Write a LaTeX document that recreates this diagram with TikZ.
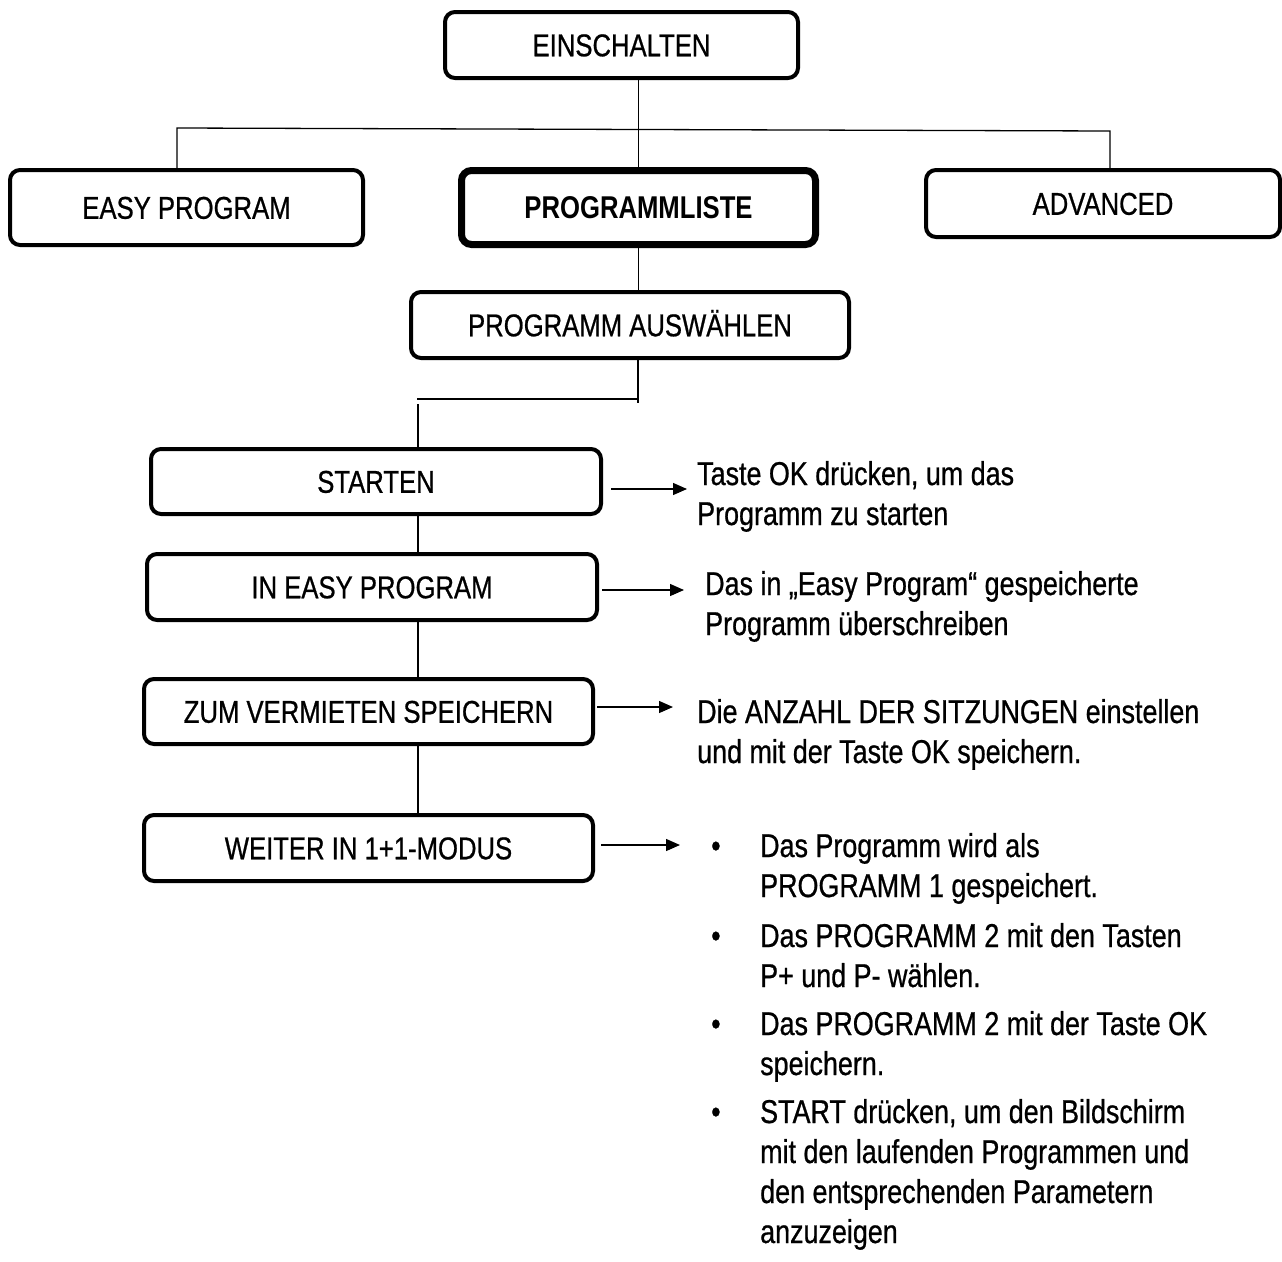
\documentclass[tikz,border=0pt]{standalone}
\usepackage{fontspec}
\setmainfont{Liberation Sans}[FakeStretch=0.815]
\newfontfamily\regfont{Liberation Sans}[FakeStretch=0.815,FakeBold=0.7]
\usetikzlibrary{calc,arrows.meta}
\begin{document}
\begin{tikzpicture}[x=1pt,y=-1pt,
  box/.style={draw,line width=4pt,rounded corners=10pt,inner sep=0pt,align=center,
    text height=22.5pt,text depth=0pt,font=\fontsize{31.5}{37}\regfont},
  conn/.style={line width=1.3pt},
  arr/.style={line width=1.3pt,-{Triangle[length=14pt,width=12pt]}},
  note/.style={anchor=base west,inner sep=0pt,align=left,font=\fontsize{33}{40}\regfont}]
\useasboundingbox (0,0) rectangle (1282,1261);

% boxes
\node[box,minimum width=353pt,minimum height=66pt] (ein) at (621.5,45) {EINSCHALTEN};
\node[box,minimum width=353pt,minimum height=75pt] (easy) at (186.5,207.5) {EASY PROGRAM};
\node[box,line width=7pt,minimum width=354pt,minimum height=74pt,
      font=\fontsize{31.5}{37}\selectfont\rmfamily\bfseries] (plist) at (638.5,207.5) {PROGRAMMLISTE};
\node[box,minimum width=354pt,minimum height=67pt] (adv) at (1103,203.5) {ADVANCED};
\node[box,minimum width=438pt,minimum height=66pt] (ausw) at (630,325) {PROGRAMM AUSWÄHLEN};
\node[box,minimum width=450pt,minimum height=65pt] (st) at (376,481.5) {STARTEN};
\node[box,minimum width=450pt,minimum height=66pt] (ie) at (372,587) {IN EASY PROGRAM};
\node[box,minimum width=449pt,minimum height=65pt] (zum) at (368.5,711.5) {ZUM VERMIETEN SPEICHERN};
\node[box,minimum width=449pt,minimum height=66pt] (wei) at (368.5,848) {WEITER IN 1+1-MODUS};

% connectors top
\coordinate (bl) at (177,128);
\coordinate (br) at (1110,131);
\draw[conn] (ein.south -| plist.north) -- (plist.north);
\draw[conn] (easy.north -| bl) -- (bl) -- (br) -- (adv.north -| br);
\draw[conn] (plist.south) -- (plist.south |- ausw.north);

% branch below ausw
\coordinate (j1) at (638,399);
\coordinate (j2) at (417,399);
\coordinate (j3) at (418,404);
\draw[conn] (ausw.south -| j1) -- ($(j1)+(0,4)$);
\draw[conn] (j1) -- (j2);
\draw[conn] (j3) -- (st.north -| j3);
\draw[conn] (st.south -| j3) -- (ie.north -| j3);
\draw[conn] (ie.south -| j3) -- (zum.north -| j3);
\draw[conn] (zum.south -| j3) -- (wei.north -| j3);

% arrows
\coordinate (t1) at (687,489);
\coordinate (t2) at (684,590);
\coordinate (t3) at (673,707);
\coordinate (t4) at (680,845);
\draw[arr] ($(st.east |- t1)+(8,0)$) -- (t1);
\draw[arr] ($(ie.east |- t2)+(3,0)$) -- (t2);
\draw[arr] ($(zum.east |- t3)+(2,0)$) -- (t3);
\draw[arr] ($(wei.east |- t4)+(6,0)$) -- (t4);

% notes (base = baseline of last line)
\node[note] (n1) at (697,525) {Taste OK drücken, um das\\Programm zu starten};
\node[note] (n2) at (705,635) {Das in „Easy Program“ gespeicherte\\Programm überschreiben};
\node[note] (n3) at (697,763) {Die ANZAHL DER SITZUNGEN einstellen\\und mit der Taste OK speichern.};
\node[note] (n4) at (711,857) {\begin{tabular}[t]{@{}p{49pt}@{}l@{}}
• & Das Programm wird als\\
  & PROGRAMM 1 gespeichert.\\[10pt]
• & Das PROGRAMM 2 mit den Tasten\\
  & P+ und P- wählen.\\[8pt]
• & Das PROGRAMM 2 mit der Taste OK\\
  & speichern.\\[8pt]
• & START drücken, um den Bildschirm\\
  & mit den laufenden Programmen und\\
  & den entsprechenden Parametern\\
  & anzuzeigen
\end{tabular}};
\end{tikzpicture}
\end{document}
